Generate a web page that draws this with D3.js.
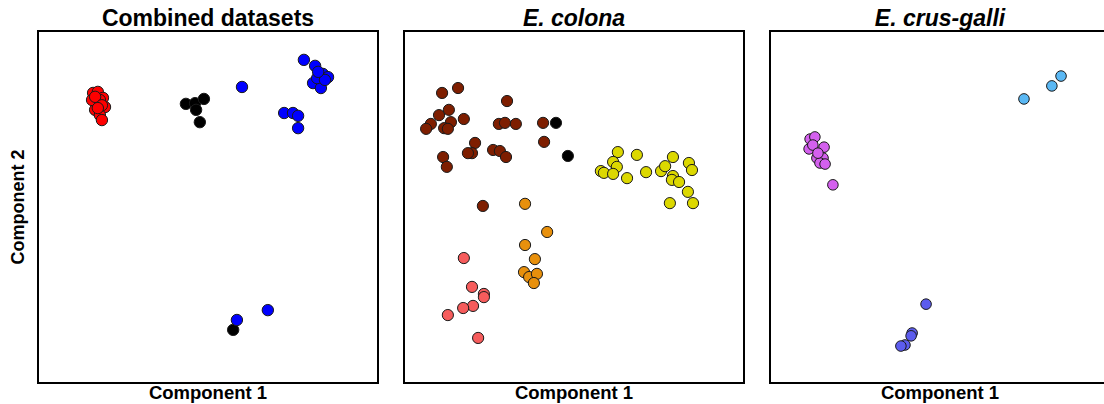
<!DOCTYPE html>
<html>
<head>
<meta charset="utf-8">
<style>
  body { margin: 0; background: #fff; }
  text { font-family: Arial, "Liberation Sans", sans-serif; font-weight: bold; fill: #000; }
</style>
</head>
<body>
<div id="chart"></div>
<script src="https://d3js.org/d3.v7.min.js"></script>
<script>
// panel titles and axis labels
var panelTitles = ["Combined datasets", "E. colona", "E. crus-galli"];
var titleItalic = [false, true, true];
var xLabel = "Component 1";
var yLabel = "Component 2";

// scores as [Component 1, Component 2], both scaled 0-100 within each panel
// panel 1: combined
var combinedRed = [[16.2,82.4],[17.6,82.7],[19.1,81.0],[17.4,79.5],[19.7,78.4],[16.8,77.6],[18.2,76.1],
  [18.8,74.7],[15.9,80.4],[18.2,80.4],[16.8,81.3],[18.8,78.9],[17.6,78.1]];
var combinedBlack = [[43.5,79.3],[46.2,79.5],[48.8,80.7],[46.5,77.6],[47.6,74.1],[57.4,15.1]];
var combinedBlue = [[60.0,84.1],[78.2,91.8],[81.5,90.1],[83.8,87.8],[85.3,86.9],[82.9,86.6],[80.9,85.2],
  [83.2,83.8],[82.1,86.6],[84.4,86.1],[82.4,88.4],[72.4,76.7],[75.0,76.7],[76.5,75.9],[76.5,72.4],
  [58.5,17.9],[67.6,20.7]];

// panel 2: E. colona
var colonaBrown = [[11.2,82.4],[15.9,83.8],[30.3,80.1],[10.3,76.1],[13.2,77.6],[13.8,74.1],[17.6,75.0],
  [7.9,73.6],[6.5,72.2],[11.8,72.4],[12.9,72.2],[27.9,73.6],[29.7,73.9],[32.9,73.6],[40.9,73.9],
  [41.2,68.5],[20.9,68.2],[20.0,65.3],[18.8,65.3],[26.2,66.2],[28.2,65.9],[30.0,64.2],[11.5,64.2],
  [12.6,61.4],[23.2,50.3]];
var colonaBlack = [[44.7,73.9],[48.2,64.5]];
var colonaYellow = [[62.9,65.6],[68.5,64.8],[61.5,62.8],[62.6,61.4],[57.9,60.2],[58.8,59.7],[61.5,59.4],
  [65.6,58.2],[71.2,59.9],[79.1,64.2],[83.8,62.5],[84.7,60.5],[75.6,60.2],[76.8,61.6],[79.1,58.8],
  [78.8,57.7],[80.9,57.1],[83.5,54.3],[78.2,51.1],[85.0,51.1]];
var colonaOrange = [[35.6,50.9],[42.1,42.9],[35.6,39.2],[38.5,35.2],[35.3,31.5],[36.8,30.1],[39.1,31.0],[38.2,28.4]];
var colonaSalmon = [[17.6,35.5],[20.0,27.3],[23.5,25.3],[23.5,24.4],[20.3,21.9],[17.4,21.3],[12.9,19.3],[21.8,12.8]];

// panel 3: E. crus-galli
var crusLightBlue = [[85.6,87.2],[82.9,84.4],[74.7,80.7]];
var crusViolet = [[11.8,69.3],[13.2,69.9],[11.5,66.5],[12.6,67.6],[15.9,67.0],[13.8,63.9],[15.6,63.9],
  [14.7,62.5],[16.2,62.2],[14.1,65.3],[18.5,56.3]];
var crusBlue = [[45.9,22.4],[41.8,14.2],[41.5,13.4],[39.7,10.8],[38.5,10.5]];

var panels = [
  [{pts: combinedRed, color: "#ff0000"}, {pts: combinedBlack, color: "#000000"}, {pts: combinedBlue, color: "#0000ff"}],
  [{pts: colonaBrown, color: "#7e1e00"}, {pts: colonaBlack, color: "#000000"}, {pts: colonaYellow, color: "#dcd800"},
   {pts: colonaOrange, color: "#e8900c"}, {pts: colonaSalmon, color: "#f65c5c"}],
  [{pts: crusLightBlue, color: "#5ab8f4"}, {pts: crusViolet, color: "#d460ee"}, {pts: crusBlue, color: "#5c5cee"}]
];
var pointRadius = [5.7, 5.6, 5.3];

var W = 1104, H = 404;
var margin = {left: 38, top: 31},
    pw = 340, ph = 352, gap = 26;

var svg = d3.select("#chart").append("svg")
  .attr("width", W)
  .attr("height", H);

var x = d3.scaleLinear().domain([0, 100]).range([0, pw]);
var y = d3.scaleLinear().domain([0, 100]).range([ph, 0]);

panels.forEach(function(groups, i) {
  var g = svg.append("g")
    .attr("transform", "translate(" + (margin.left + i * (pw + gap)) + "," + margin.top + ")");

  g.append("rect")
    .attr("width", pw)
    .attr("height", ph)
    .attr("fill", "none")
    .attr("stroke", "#000")
    .attr("stroke-width", 2);

  groups.forEach(function(grp) {
    g.selectAll(null)
      .data(grp.pts)
      .enter()
      .append("circle")
        .attr("cx", function(d) { return x(d[0]); })
        .attr("cy", function(d) { return y(d[1]); })
        .attr("r", pointRadius[i])
        .attr("fill", grp.color)
        .attr("stroke", "#1a1a1a")
        .attr("stroke-width", 1);
  });

  g.append("text")
    .attr("x", pw / 2)
    .attr("y", -5)
    .attr("text-anchor", "middle")
    .attr("font-size", "23px")
    .style("font-style", titleItalic[i] ? "italic" : "normal")
    .text(panelTitles[i]);

  g.append("text")
    .attr("x", pw / 2)
    .attr("y", ph + 16)
    .attr("text-anchor", "middle")
    .attr("font-size", "18.5px")
    .text(xLabel);
});

svg.append("text")
  .attr("transform", "translate(24," + (margin.top + ph / 2) + ") rotate(-90)")
  .attr("text-anchor", "middle")
  .attr("font-size", "18px")
  .text(yLabel);
</script>
</body>
</html>
